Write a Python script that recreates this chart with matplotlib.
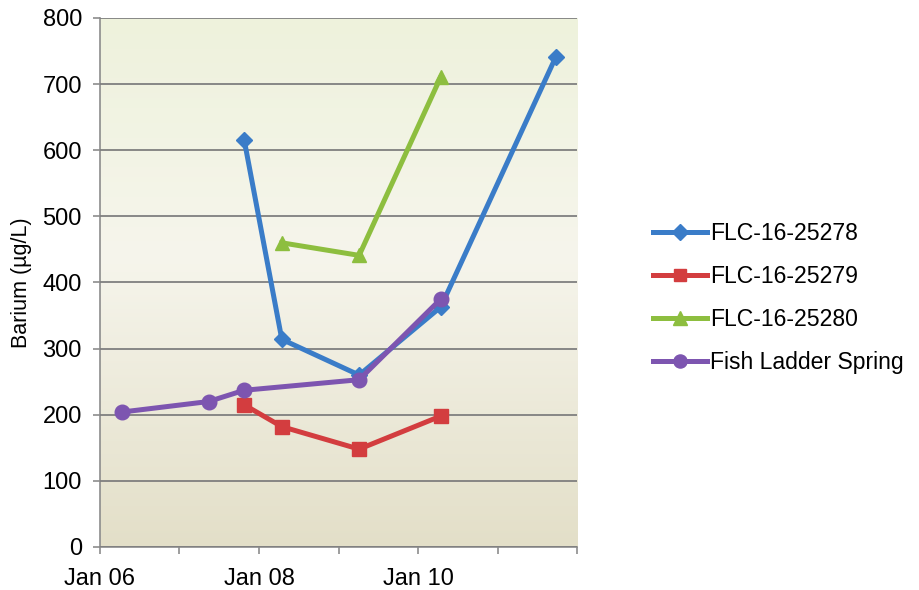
import numpy as np
import pandas as pd
import matplotlib
matplotlib.use("Agg")
import matplotlib.pyplot as plt
from matplotlib.colors import LinearSegmentedColormap

plt.rcParams['font.family'] = ['Liberation Sans', 'DejaVu Sans']

# sampling dates and barium values (ug/L)
dates_278 = ["2007-10-25", "2008-04-15", "2009-04-05", "2010-04-15", "2011-09-25"]
ba_278 = [616, 314, 260, 363, 741]

dates_279 = ["2007-10-25", "2008-04-15", "2009-04-05", "2010-04-15"]
ba_279 = [215, 182, 148, 198]

dates_280 = ["2008-04-15", "2009-04-05", "2010-04-15"]
ba_280 = [460, 441, 711]

dates_fls = ["2006-04-10", "2007-05-15", "2007-10-25", "2009-04-05", "2010-04-15"]
ba_fls = [204, 220, 237, 253, 375]

tick_years = list(range(2006, 2013))
tick_labels = ["Jan 06", "", "Jan 08", "", "Jan 10", "", ""]

series = [
    ("FLC-16-25278", dates_278, ba_278, "#3a7cc8", "D", 8.5),
    ("FLC-16-25279", dates_279, ba_279, "#d33d3f", "s", 9.5),
    ("FLC-16-25280", dates_280, ba_280, "#8dbe3f", "^", 10.5),
    ("Fish Ladder Spring", dates_fls, ba_fls, "#7d55b0", "o", 10.5),
]

fig = plt.figure(figsize=(9.19, 5.9), dpi=100)
ax = fig.add_axes([0.1088, 0.0729, 0.5192, 0.8966])

# background gradient of the plot area
cmap = LinearSegmentedColormap.from_list(
    "bg", [(0.0, "#e3dfc8"), (0.55, "#f6f5ec"), (1.0, "#eef2dc")])
grad = np.linspace(0, 1, 256).reshape(-1, 1)
ax.imshow(grad, cmap=cmap, aspect="auto", origin="lower",
          extent=[0, 1, 0, 1], transform=ax.transAxes, zorder=0)

for label, d, v, c, m, ms in series:
    ax.plot(pd.to_datetime(d), v, color=c, lw=3.6, marker=m, ms=ms,
            label=label, zorder=3)

ax.set_xlim(pd.Timestamp("2006-01-01"), pd.Timestamp("2012-01-01"))
ax.set_ylim(0, 800)
ax.set_yticks(range(0, 801, 100))
ax.set_xticks(pd.to_datetime([f"{t}-01-01" for t in tick_years]))
ax.set_xticklabels(tick_labels)

ax.grid(axis="y", color="#7f7f7f", lw=1.3, zorder=1)
ax.set_axisbelow(False)
for s in ["top", "right"]:
    ax.spines[s].set_visible(False)
for s in ["left", "bottom"]:
    ax.spines[s].set_color("#8c8c8c")
    ax.spines[s].set_linewidth(1.2)
ax.tick_params(axis="both", colors="#8c8c8c", length=5, width=1.2,
               labelsize=17, labelcolor="black")
ax.tick_params(axis="y", pad=8)
ax.tick_params(axis="x", pad=10)
ax.set_ylabel("Barium (µg/L)", fontsize=15.5)
ax.yaxis.set_label_coords(-0.143, 0.5)

fig.legend(loc="center left", bbox_to_anchor=(0.700, 0.495), frameon=False,
           fontsize=16.6, handlelength=2.35, handletextpad=0.15,
           labelspacing=0.86, markerscale=0.9, borderaxespad=0)

fig.savefig("out.png", dpi=100)
